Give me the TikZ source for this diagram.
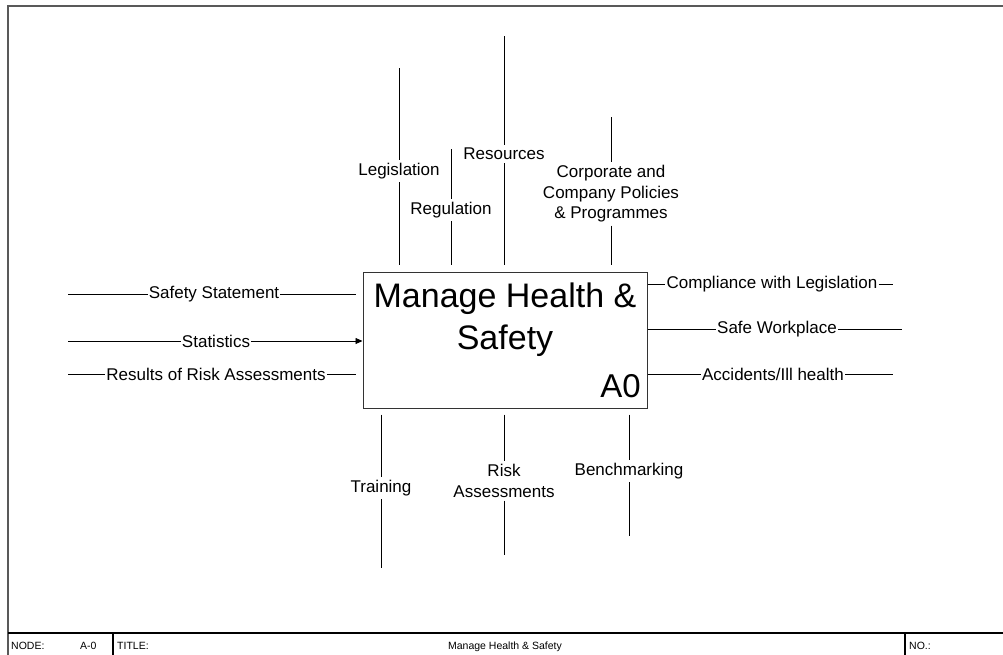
\documentclass[tikz,border=0pt]{standalone}
\usepackage{fontspec}
\setmainfont{Liberation Sans}
\usetikzlibrary{arrows.meta,positioning}
\tikzstyle{lbl} = [font=\fontsize{17}{20.5}\selectfont, inner xsep=1pt, inner ysep=3pt, align=center]
\tikzstyle{frm} = [draw=black!65, line width=1.6pt]
\tikzstyle{bar} = [font=\fontsize{10.5}{12}\selectfont, inner sep=0pt, anchor=base west]
\tikzstyle{con} = [line width=0.8pt]
\tikzstyle{arrow} = [con, -{Triangle[length=7pt,width=6pt]}]

\begin{document}
\begin{tikzpicture}[x=1pt,y=-1pt]
\useasboundingbox (0,0) rectangle (1003,654);
% frame and title bar
\draw[frm] (8,670) -- (8,6) -- (1020,6);
\draw[line width=1.2pt] (8,633) -- (1020,633);
\draw[line width=1.2pt] (113,633) -- (113,670);
\draw[line width=1.2pt] (905,633) -- (905,670);
\node[bar] (nd) at (11,649) {NODE:};
\node[bar] (ndv) at (80,649) {A-0};
\node[bar] (tt) at (117,649) {TITLE:};
\node[bar, anchor=base] (ttv) at (505,649) {Manage Health \& Safety};
\node[bar] (no) at (909,649) {NO.:};
% activity box
\node[draw=black!80, line width=1pt, minimum width=284pt, minimum height=136pt, inner sep=0pt] (box) at (505,340) {};
\node[font=\fontsize{34}{42}\selectfont, align=center, anchor=north, inner sep=0pt] (ttl) at (505,283) {Manage Health \&\\Safety};
\node[font=\fontsize{33}{36}\selectfont, anchor=south east, inner sep=0pt] (num) at (641,398) {A0};
% controls
\coordinate (leg0) at (399,68);
\node[lbl] (leg) at (399,171) {Legislation};
\draw[con] (leg0) -- (leg);
\draw[con, shorten >=7pt] (leg) -- (leg |- box.north);
\coordinate (reg0) at (451,149);
\node[lbl] (reg) at (451,210) {Regulation};
\draw[con] (reg0) -- (reg);
\draw[con, shorten >=7pt] (reg) -- (reg |- box.north);
\coordinate (res0) at (504,36);
\node[lbl] (res) at (504,154) {Resources};
\draw[con] (res0) -- (res);
\draw[con, shorten >=7pt] (res) -- (res |- box.north);
\coordinate (pol0) at (611,117);
\node[lbl] (pol) at (611,194) {Corporate and\\Company Policies\\\& Programmes};
\draw[con] (pol0) -- (pol);
\draw[con, shorten >=7pt] (pol) -- (pol |- box.north);
% inputs
\coordinate (ss0) at (68,294);
\node[lbl] (ss) at (214,294) {Safety Statement};
\draw[con] (ss0) -- (ss);
\draw[con, shorten >=7pt] (ss) -- (ss -| box.west);
\coordinate (st0) at (68,341);
\node[lbl] (st) at (216,341) {Statistics};
\draw[con] (st0) -- (st);
\draw[arrow] (st) -- (st -| box.west);
\coordinate (rra0) at (68,374);
\node[lbl] (rra) at (216,374) {Results of Risk Assessments};
\draw[con] (rra0) -- (rra);
\draw[con, shorten >=7pt] (rra) -- (rra -| box.west);
% outputs
\node[lbl] (cmp) at (772,284) {Compliance with Legislation};
\coordinate (cmp1) at (893,284);
\draw[con] (box.east |- cmp) -- (cmp);
\draw[con] (cmp) -- (cmp1);
\node[lbl] (swp) at (777,329) {Safe Workplace};
\coordinate (swp1) at (902,329);
\draw[con] (box.east |- swp) -- (swp);
\draw[con] (swp) -- (swp1);
\node[lbl] (acc) at (773,374) {Accidents/Ill health};
\coordinate (acc1) at (893,374);
\draw[con] (box.east |- acc) -- (acc);
\draw[con] (acc) -- (acc1);
% mechanisms
\node[lbl] (trn) at (381,488) {Training};
\coordinate (trn1) at (381,568);
\draw[con, shorten <=6pt] (trn |- box.south) -- (trn);
\draw[con] (trn) -- (trn1);
\node[lbl] (ra) at (504,481) {Risk\\Assessments};
\coordinate (ra1) at (504,555);
\draw[con, shorten <=6pt] (ra |- box.south) -- (ra);
\draw[con] (ra) -- (ra1);
\node[lbl] (bm) at (629,471) {Benchmarking};
\coordinate (bm1) at (629,536);
\draw[con, shorten <=6pt] (bm |- box.south) -- (bm);
\draw[con] (bm) -- (bm1);
\end{tikzpicture}
\end{document}
